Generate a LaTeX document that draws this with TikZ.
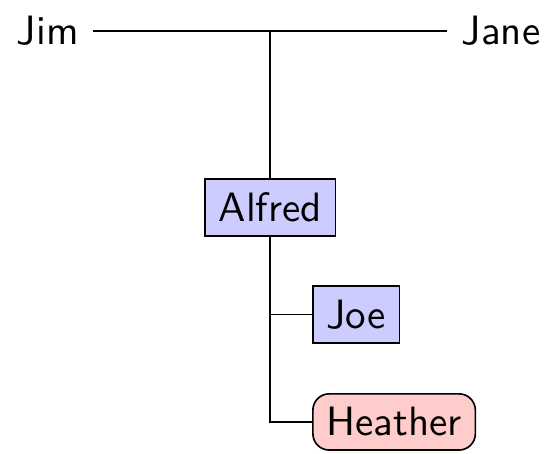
\documentclass[tikz,border=0pt]{standalone}
\renewcommand{\familydefault}{\sfdefault}

\begin{document}
\begin{tikzpicture}
    \useasboundingbox (0, 0) rectangle (4.775, -3.884);
    \node (jim) at (0.41, -0.266) {Jim};
    \node (jane) at (4.295, -0.266) {Jane};
    \draw (jim) -- coordinate (wed) (jane);
    \node[draw, fill=blue!20] (alfred) at (wed |- 0, -1.778) {Alfred};
    \node[draw, fill=blue!20, anchor=west] (joe) at (2.675, -2.696) {Joe};
    \node[draw, fill=red!20, rounded corners, anchor=west] (heather) at (2.675, -3.617) {Heather};
    \draw (wed) -- (alfred);
    \draw (alfred.south) |- (joe.west);
    \draw (alfred.south) |- (heather.west);
\end{tikzpicture}
\end{document}
